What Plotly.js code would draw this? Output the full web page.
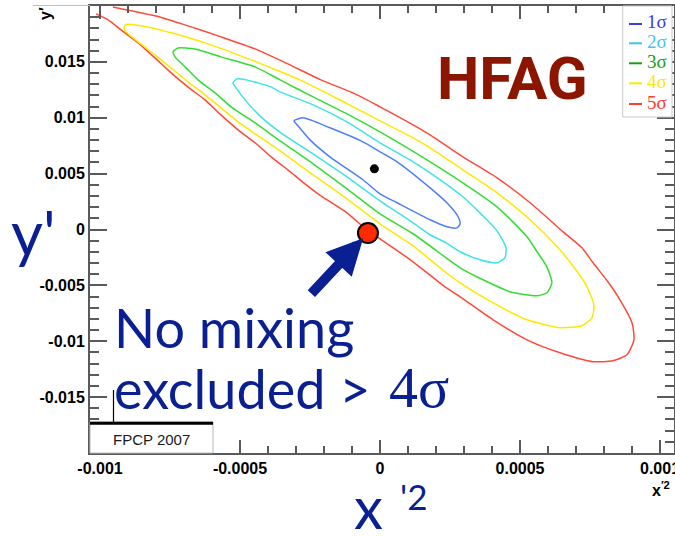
<!DOCTYPE html>
<html>
<head>
<meta charset="utf-8">
<script src="https://cdn.plot.ly/plotly-3.0.1.min.js"></script>
<style>html,body{margin:0;padding:0;background:#fff;overflow:hidden;}#chart{width:675px;height:536px;}</style>
</head>
<body>
<div id="chart"></div>
<script>
// ---- data (x'^2, y') ----
const sig1X = [-0.000307,-0.000275,-0.000179,-0.000061,0,0.000061,0.000179,0.000239,0.000279,0.000286,0.000275,0.000239,0.000179,0.000061,0,-0.000061,-0.000179,-0.000250,-0.000296,-0.000307];
const sig1Y = [0.00972,0.00999,0.00910,0.00784,0.00695,0.00606,0.00373,0.00239,0.00114,0.00051,0.00015,0.00024,0.00087,0.00239,0.00319,0.00445,0.00650,0.00802,0.00937,0.00972];

const sig2X = [-0.000525,-0.000511,-0.000479,-0.000389,-0.000357,-0.000239,-0.000118,0,0.000118,0.000179,0.000296,0.000364,0.000418,0.000450,0.000446,0.000418,0.000357,0.000286,0.000236,0.000179,0.000118,0,-0.000118,-0.000239,-0.000354,-0.000425,-0.000482,-0.000514,-0.000525];
const sig2Y = [0.01312,0.01348,0.01339,0.01276,0.01232,0.01115,0.00963,0.00776,0.00606,0.00507,0.00293,0.00131,-0.00012,-0.00164,-0.00253,-0.00298,-0.00271,-0.00199,-0.00119,-0.00047,0.00060,0.00257,0.00471,0.00677,0.00865,0.01008,0.01160,0.01268,0.01312];

const sig3X = [-0.000739,-0.000721,-0.000661,-0.000568,-0.000446,-0.000357,-0.000239,-0.000118,0,0.000179,0.000296,0.000418,0.000525,0.000561,0.000596,0.000614,0.000596,0.000561,0.000464,0.000346,0.000286,0.000236,0.000118,0,-0.000118,-0.000239,-0.000357,-0.000446,-0.000532,-0.000589,-0.000650,-0.000696,-0.000732,-0.000739];
const sig3Y = [0.01590,0.01625,0.01616,0.01545,0.01455,0.01339,0.01187,0.01035,0.00874,0.00606,0.00418,0.00203,-0.00065,-0.00199,-0.00334,-0.00477,-0.00566,-0.00593,-0.00557,-0.00423,-0.00343,-0.00253,-0.00038,0.00140,0.00364,0.00588,0.00793,0.00954,0.01098,0.01223,0.01339,0.01455,0.01545,0.01590];

const sig4X = [-0.000914,-0.000904,-0.000829,-0.000732,-0.000625,-0.000507,-0.000389,-0.000286,-0.000179,-0.000089,0,0.000118,0.000179,0.000296,0.000418,0.000536,0.000636,0.000686,0.000736,0.000764,0.000757,0.000721,0.000643,0.000525,0.000404,0.000286,0.000236,0.000118,0,-0.000118,-0.000239,-0.000357,-0.000446,-0.000507,-0.000568,-0.000625,-0.000686,-0.000746,-0.000804,-0.000864,-0.000907,-0.000914];
const sig4Y = [0.01813,0.01836,0.01813,0.01751,0.01670,0.01563,0.01446,0.01339,0.01205,0.01089,0.00972,0.00820,0.00731,0.00534,0.00328,0.00087,-0.00164,-0.00316,-0.00495,-0.00674,-0.00790,-0.00861,-0.00879,-0.00808,-0.00656,-0.00477,-0.00387,-0.00146,0.00051,0.00275,0.00489,0.00704,0.00856,0.00963,0.01089,0.01205,0.01321,0.01446,0.01563,0.01679,0.01768,0.01813];

const sig5X = [-0.000954,-0.000804,-0.000686,-0.000568,-0.000446,-0.000329,-0.000211,-0.000089,0,0.000118,0.000179,0.000296,0.000418,0.000536,0.000654,0.000721,0.000761,0.000814,0.000857,0.000900,0.000907,0.000882,0.000832,0.000761,0.000643,0.000525,0.000404,0.000286,0.000236,0.000118,0,-0.000043,-0.000118,-0.000211,-0.000268,-0.000329,-0.000389,-0.000446,-0.000507,-0.000568,-0.000625,-0.000686,-0.000746,-0.000804,-0.000864,-0.000925,-0.000971,-0.001014];
const sig5Y = [0.01992,0.01912,0.01822,0.01724,0.01616,0.01482,0.01339,0.01214,0.01098,0.00937,0.00847,0.00650,0.00462,0.00239,-0.00021,-0.00164,-0.00298,-0.00468,-0.00629,-0.00835,-0.00987,-0.01121,-0.01174,-0.01183,-0.01103,-0.00987,-0.00808,-0.00602,-0.00521,-0.00289,-0.00083,-0.00012,0.00149,0.00301,0.00409,0.00534,0.00650,0.00776,0.00892,0.01026,0.01160,0.01276,0.01402,0.01536,0.01670,0.01786,0.01876,0.01929];

const fitX = [-0.00002];
const fitY = [0.00543];
const noMixX = [-0.000043];
const noMixY = [-0.00032];

const levelNames = ["1\u03c3","2\u03c3","3\u03c3","4\u03c3","5\u03c3"];
const xTickVals = [-0.001,-0.0005,0,0.0005,0.001];
const xTickText = ["-0.001","-0.0005","0","0.0005","0.001"];
const yTickVals = [-0.015,-0.01,-0.005,0,0.005,0.01,0.015];
const yTickText = ["-0.015","-0.01","-0.005","0","0.005","0.01","0.015"];

// ---- styles ----
const lineColors = ["#4f7dff","#3fe3e6","#33dd33","#ffe800","#ff4a3a"];
const legLineColors = ["#3f3fe0","#41c6e6","#12a012","#ffe800","#ff3a30"];
const legTextColors = ["#3a3ae6","#41c6e6","#12a012","#ffe800","#ff3a30"];
const contX = [sig1X,sig2X,sig3X,sig4X,sig5X];
const contY = [sig1Y,sig2Y,sig3Y,sig4Y,sig5Y];

const traces = [];
for (let i = 4; i >= 0; i--) {
  traces.push({type:'scatter', mode:'lines', x:contX[i], y:contY[i], name:levelNames[i],
    line:{color:lineColors[i], width:1.5, shape:'spline', smoothing:0.6}, hoverinfo:'skip', showlegend:false});
}
traces.push({type:'scatter', mode:'markers', x:fitX, y:fitY, marker:{color:'#000', size:9}, showlegend:false, hoverinfo:'skip'});
traces.push({type:'scatter', mode:'markers', x:noMixX, y:noMixY, marker:{color:'#ff2a00', size:20, line:{color:'#000', width:2}}, showlegend:false, hoverinfo:'skip'});

const L = 90, T = 6, W = 584, H = 447;
const px = v => (v - L) / W;
const py = v => (T + H - v) / H;

const axisCommon = {
  showgrid:false, zeroline:false, showline:true, linecolor:'#5a5a5a', linewidth:2,
  mirror:'ticks', ticks:'inside', tickcolor:'#5a5a5a', tickwidth:2, tickmode:'array',
  ticklabeloverflow:'allow',
  tickfont:{family:'Liberation Sans, Arial, sans-serif', size:16, color:'#000', weight:'bold'}
};

const shapes = [
  // legend box
  {type:'rect', xref:'paper', yref:'paper', x0:px(622.7), x1:px(672), y0:py(117), y1:py(6), fillcolor:'#fff', line:{color:'#c8c8c8', width:1}, layer:'above'},
  // FPCP box
  {type:'rect', xref:'paper', yref:'paper', x0:0, x1:px(213), y0:0, y1:py(422), fillcolor:'#fff', line:{color:'#b8b8b8', width:1}, layer:'above'},
  {type:'line', xref:'paper', yref:'paper', x0:0, x1:px(213), y0:py(423.3), y1:py(423.3), line:{color:'#000', width:3}, layer:'above'},
  {type:'line', xref:'paper', yref:'paper', x0:px(113.5), x1:px(113.5), y0:py(423), y1:py(390), line:{color:'#000', width:1.2}, layer:'above'},
  // top grey canvas line
  {type:'line', xref:'paper', yref:'paper', x0:px(33), x1:0, y0:py(5.5), y1:py(5.5), line:{color:'#bdbdbd', width:1}, layer:'above'}
];
const legLineY = [24, 43.3, 63.3, 83.3, 104];
for (let i = 0; i < 5; i++) {
  shapes.push({type:'line', xref:'paper', yref:'paper', x0:px(629), x1:px(642), y0:py(legLineY[i]), y1:py(legLineY[i]), line:{color:legLineColors[i], width:2}, layer:'above'});
}

const blue = '#0a1f91';
const annotations = [
  {xref:'paper', yref:'paper', x:px(512.5), y:py(78.5), text:'HFAG', showarrow:false, xanchor:'center', yanchor:'middle',
    font:{family:'Liberation Sans Narrow, Roboto, Liberation Sans, sans-serif', size:60, color:'#8c1500', weight:'bold'}},
  {xref:'paper', yref:'paper', x:px(112), y:py(327.5), text:'No mixing', showarrow:false, xanchor:'left', yanchor:'middle',
    font:{family:'Lato, sans-serif', size:54, color:blue}},
  {xref:'paper', yref:'paper', x:px(112), y:py(388), text:'excluded >', showarrow:false, xanchor:'left', yanchor:'middle',
    font:{family:'Lato, sans-serif', size:54, color:blue}},
  {xref:'paper', yref:'paper', x:px(387), y:py(387), text:'4\u03c3', showarrow:false, xanchor:'left', yanchor:'middle',
    font:{family:'Liberation Serif, serif', size:58, color:blue}},
  {xref:'paper', yref:'paper', x:px(33), y:py(232), text:"y'", showarrow:false, xanchor:'center', yanchor:'middle',
    font:{family:'Lato, sans-serif', size:62, color:blue}},
  {xref:'paper', yref:'paper', x:px(368), y:py(506), text:'x', showarrow:false, xanchor:'center', yanchor:'middle', height:58,
    font:{family:'Lato, sans-serif', size:58, color:blue}},
  {xref:'paper', yref:'paper', x:px(413), y:py(496), text:"'2", showarrow:false, xanchor:'center', yanchor:'middle',
    font:{family:'Lato, sans-serif', size:35, color:blue}},
  // axis titles (ROOT style)
  {xref:'paper', yref:'paper', x:px(45), y:py(14), text:"y\u2032", showarrow:false, textangle:-90, xanchor:'center', yanchor:'middle',
    font:{family:'Liberation Sans, Arial, sans-serif', size:16, color:'#000', weight:'bold'}},
  {xref:'paper', yref:'paper', x:px(661), y:py(489), text:"x<sup>\u20322</sup>", showarrow:false, xanchor:'center', yanchor:'middle',
    font:{family:'Liberation Sans, Arial, sans-serif', size:16, color:'#000', weight:'bold'}},
  // FPCP label
  {xref:'paper', yref:'paper', x:px(151), y:py(439), text:'FPCP 2007', showarrow:false, xanchor:'center', yanchor:'middle',
    font:{family:'Liberation Sans, Arial, sans-serif', size:15, color:'#1a1a1a'}},
  // arrow to the no-mixing point
  {xref:'x', yref:'y', x:noMixX[0], y:noMixY[0], ax:-58, ay:62, text:'', showarrow:true, arrowhead:2, arrowsize:0.72, arrowwidth:10,
    arrowcolor:blue, standoff:7}
];
const legTextY = [22, 41.3, 61.3, 81.3, 102];
for (let i = 0; i < 5; i++) {
  annotations.push({xref:'paper', yref:'paper', x:px(645), y:py(legTextY[i]), text:levelNames[i], showarrow:false, xanchor:'left', yanchor:'middle',
    font:{family:'Liberation Serif, serif', size:19, color:legTextColors[i]}});
}

const layout = {
  width:675, height:536, margin:{l:L, r:1, t:T, b:83, pad:0},
  paper_bgcolor:'#fff', plot_bgcolor:'#fff', showlegend:false,
  xaxis: Object.assign({}, axisCommon, {range:[-0.0010357, 0.00105], tickvals:xTickVals, ticktext:xTickText, ticklen:13,
    minor:{ticks:'inside', ticklen:7, tickwidth:2, tickcolor:'#5a5a5a', dtick:0.0001, tick0:0, showgrid:false}}),
  yaxis: Object.assign({}, axisCommon, {range:[-0.02, 0.02], tickvals:yTickVals, ticktext:yTickText, ticklen:17,
    minor:{ticks:'inside', ticklen:9, tickwidth:2, tickcolor:'#5a5a5a', dtick:0.001, tick0:0, showgrid:false}}),
  shapes:shapes, annotations:annotations
};

Plotly.newPlot('chart', traces, layout, {displayModeBar:false, staticPlot:true});
</script>
</body>
</html>
